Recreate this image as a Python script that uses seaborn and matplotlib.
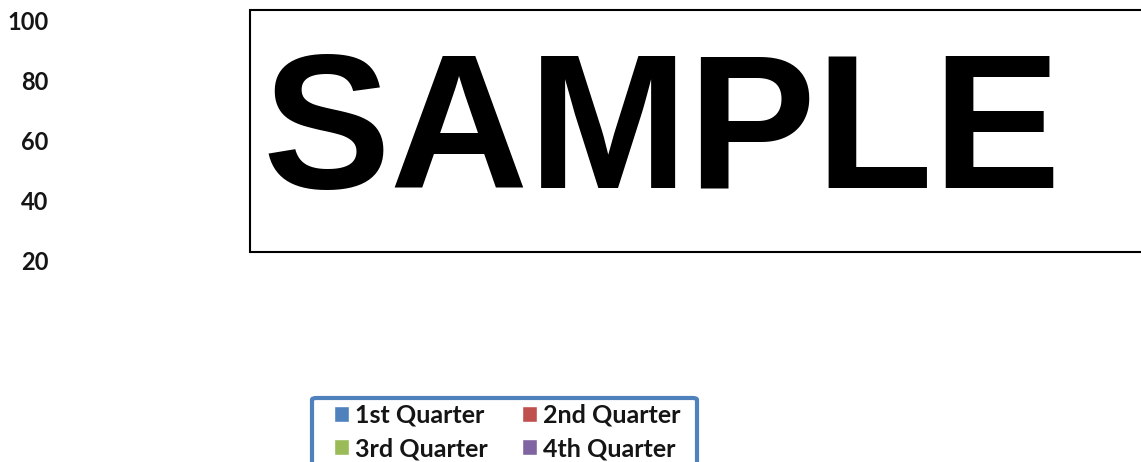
import matplotlib
matplotlib.use("Agg")
import matplotlib.pyplot as plt
import matplotlib.patches as mpatches
import pandas as pd
import seaborn as sns

# Chart data (no bars rise above the baseline in the picture)
categories = ["East", "West", "North"]
quarters = ["1st Quarter", "2nd Quarter", "3rd Quarter", "4th Quarter"]
values = {
    "1st Quarter": [0, 0, 0],
    "2nd Quarter": [0, 0, 0],
    "3rd Quarter": [0, 0, 0],
    "4th Quarter": [0, 0, 0],
}
y_ticks = [20, 40, 60, 80, 100]
colors = ["#4F81BD", "#C0504D", "#9BBB59", "#8064A2"]
stamp_text = "SAMPLE"

rows = []
for q in quarters:
    for c, v in zip(categories, values[q]):
        rows.append({"Region": c, "Quarter": q, "Value": v})
df = pd.DataFrame(rows)

sns.set_style("white")
plt.rcParams["font.family"] = ["Lato", "DejaVu Sans"]

W, H = 1141, 462
fig = plt.figure(figsize=(W / 100, H / 100), dpi=100)


def fx(px):
    return px / W


def fy(py):
    return 1 - py / H


# plot area: 100 at y=20px, 0 at y=320px
ax = fig.add_axes([fx(58), fy(320), fx(1130) - fx(58), fy(20) - fy(320)])
sns.barplot(data=df, x="Region", y="Value", hue="Quarter",
            palette=colors, saturation=1, ax=ax, legend=True)
ax.set_ylim(0, 100)
ax.set_yticks(y_ticks)
ax.set_yticklabels([str(t) for t in y_ticks], fontsize=17,
                   fontweight="bold", color="#151515")
ax.tick_params(axis="y", length=0, pad=7)
ax.set_xticks([])
ax.set_xlabel("")
ax.set_ylabel("")
for s in ax.spines.values():
    s.set_visible(False)

# legend at the bottom, cut by the image edge (row-major order)
handles, labels = ax.get_legend_handles_labels()
ax.get_legend().remove()
order = [0, 2, 1, 3]
leg = fig.legend([handles[i] for i in order], [labels[i] for i in order],
                 ncol=2, frameon=False,
                 loc="upper left", bbox_to_anchor=(fx(334), fy(404)),
                 fontsize=18, handlelength=0.6, handleheight=0.6,
                 handletextpad=0.25, columnspacing=1.35, labelspacing=0.4,
                 borderpad=0.0, borderaxespad=0.0)
for t in leg.get_texts():
    t.set_fontweight("bold")
    t.set_color("#151515")
fig.patches.append(mpatches.FancyBboxPatch(
    (fx(312), fy(500)), fx(697) - fx(312), fy(398) - fy(500),
    boxstyle="round,pad=0,rounding_size=0.004",
    transform=fig.transFigure, facecolor="none",
    edgecolor="#4F81BD", linewidth=3))

# SAMPLE stamp box
fig.patches.append(mpatches.Rectangle(
    (fx(250), fy(252)), fx(1145) - fx(250), fy(10) - fy(252),
    transform=fig.transFigure, facecolor="white",
    edgecolor="black", linewidth=1.5, zorder=5))
fig.text(fx(262), fy(188), stamp_text, family="Liberation Sans",
         fontweight="bold", fontsize=138, ha="left", va="baseline",
         color="black", zorder=6)

fig.savefig("out.png", dpi=100)
